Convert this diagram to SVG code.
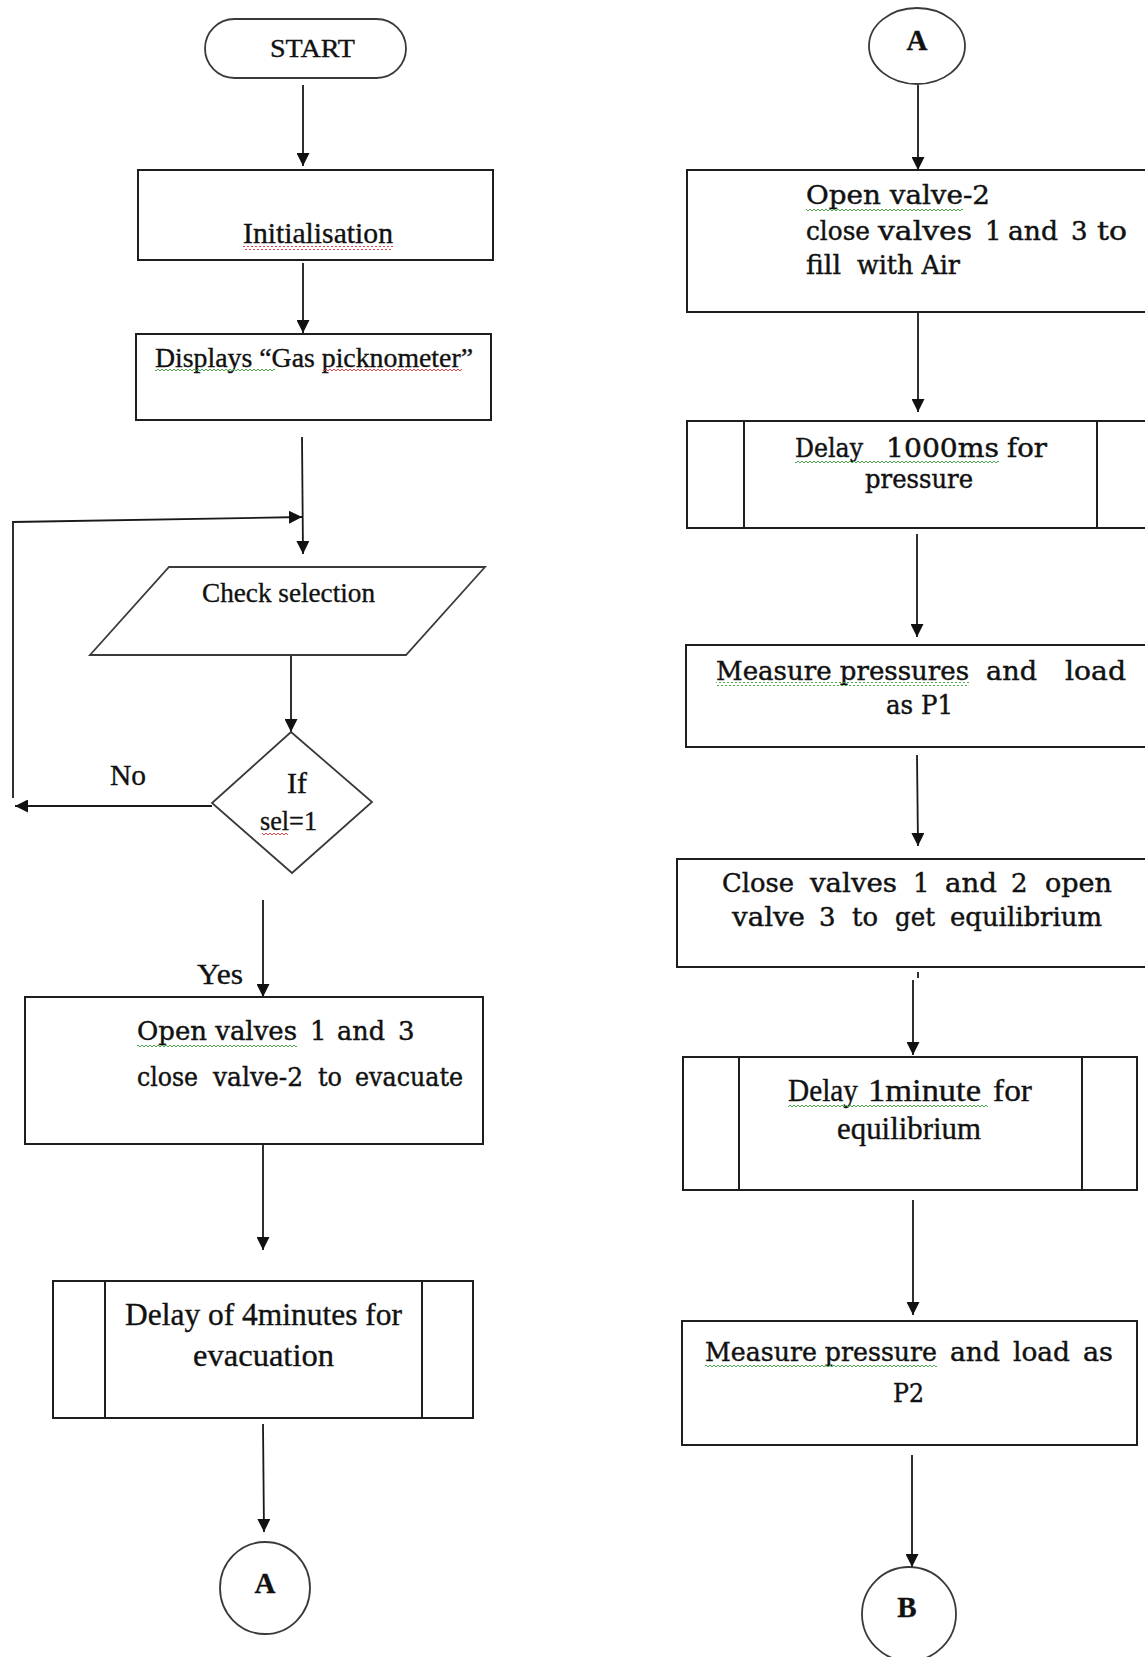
<svg xmlns="http://www.w3.org/2000/svg" width="1145" height="1657" viewBox="0 0 1145 1657">
<style>
.bg{fill:#fff}
.box{fill:none;stroke:#1e1e1e;stroke-width:2}
.shape{fill:none;stroke:#3a3a3a;stroke-width:1.8}
.con{fill:none;stroke:#1a1a1a;stroke-width:1.8}
.tr{font-family:"Liberation Serif","Times New Roman",serif;fill:#111;stroke:#111;stroke-width:0.35}
.bk{font-family:"DejaVu Serif","Liberation Serif",serif;fill:#111;stroke:#111;stroke-width:0.45}
.bold{font-weight:bold}
.sqr{fill:url(#zzR)}
.sqg{fill:url(#zzG)}
</style>
<defs>
<marker id="ah" markerUnits="userSpaceOnUse" markerWidth="13" markerHeight="13" refX="13" refY="6.5" orient="auto">
<path d="M0,0 L13,6.5 L0,13 z" fill="#111"/>
</marker>
<pattern id="zzR" width="4" height="4" patternUnits="userSpaceOnUse">
<path d="M0,3 L2,1 L4,3" fill="none" stroke="#e03030" stroke-width="0.9"/>
</pattern>
<pattern id="zzG" width="4" height="4" patternUnits="userSpaceOnUse">
<path d="M0,3 L2,1 L4,3" fill="none" stroke="#3aa03a" stroke-width="0.9"/>
</pattern>
</defs>
<rect class="bg" x="0" y="0" width="1145" height="1657"/>

<g id="connectors">
<line class="con" x1="303" y1="85" x2="303" y2="166" marker-end="url(#ah)"/>
<line class="con" x1="303" y1="263" x2="303" y2="333" marker-end="url(#ah)"/>
<line class="con" x1="302" y1="437" x2="303" y2="554" marker-end="url(#ah)"/>
<polyline class="con" points="13,798 13,522 302,517" marker-end="url(#ah)"/>
<line class="con" x1="291" y1="655" x2="291" y2="732" marker-end="url(#ah)"/>
<line class="con" x1="212" y1="806" x2="15" y2="806" marker-end="url(#ah)"/>
<line class="con" x1="263" y1="900" x2="263" y2="997" marker-end="url(#ah)"/>
<line class="con" x1="263" y1="1144" x2="263" y2="1250" marker-end="url(#ah)"/>
<line class="con" x1="263" y1="1424" x2="264" y2="1532" marker-end="url(#ah)"/>
<line class="con" x1="918" y1="85" x2="918" y2="170" marker-end="url(#ah)"/>
<line class="con" x1="918" y1="312" x2="918" y2="412" marker-end="url(#ah)"/>
<line class="con" x1="917" y1="534" x2="917" y2="637" marker-end="url(#ah)"/>
<line class="con" x1="917" y1="755" x2="918" y2="846" marker-end="url(#ah)"/>
<line class="con" x1="918" y1="972" x2="918" y2="978"/>
<line class="con" x1="913" y1="980" x2="913" y2="1055" marker-end="url(#ah)"/>
<line class="con" x1="913" y1="1200" x2="913" y2="1315" marker-end="url(#ah)"/>
<line class="con" x1="912" y1="1455" x2="912" y2="1567" marker-end="url(#ah)"/>
</g>

<g id="start">
<rect class="shape" x="205" y="19" width="201" height="59" rx="29.5"/>
<text class="tr" x="270" y="57" font-size="26" textLength="85" lengthAdjust="spacingAndGlyphs">START</text>
</g>

<g id="init">
<rect class="box" x="138" y="170" width="355" height="90"/>
<text class="tr" x="243" y="243" font-size="29" textLength="150" lengthAdjust="spacingAndGlyphs">Initialisation</text>
<rect class="sqr" x="243" y="246" width="150" height="4"/>
</g>

<g id="display">
<rect class="box" x="136" y="334" width="355" height="86"/>
<text class="tr" x="155" y="367" font-size="27" textLength="318" lengthAdjust="spacingAndGlyphs">Displays “Gas picknometer”</text>
<rect class="sqg" x="155" y="369" width="120" height="4"/>
<rect class="sqr" x="323" y="369" width="139" height="4"/>
</g>

<g id="check">
<polygon class="shape" points="169,567 485,567 406,655 90,655"/>
<text class="tr" x="202" y="602" font-size="27" textLength="173" lengthAdjust="spacingAndGlyphs">Check selection</text>
</g>

<g id="decision">
<polygon class="shape" points="291,732 372,802 292,873 212,803"/>
<text class="tr" x="287" y="793" font-size="29" textLength="20" lengthAdjust="spacingAndGlyphs">If</text>
<text class="tr" x="260" y="830" font-size="27" textLength="57" lengthAdjust="spacingAndGlyphs">sel=1</text>
<rect class="sqr" x="262" y="832" width="26" height="4"/>
</g>

<g id="labels">
<text class="tr" x="110" y="785" font-size="29" textLength="36" lengthAdjust="spacingAndGlyphs">No</text>
<text class="tr" x="197" y="984" font-size="30" textLength="46" lengthAdjust="spacingAndGlyphs">Yes</text>
</g>

<g id="evacuate">
<rect class="box" x="25" y="997" width="458" height="147"/>
<text class="bk" y="1040" font-size="26"><tspan x="137" textLength="160" lengthAdjust="spacingAndGlyphs">Open valves</tspan><tspan x="310">1</tspan><tspan x="337" textLength="48" lengthAdjust="spacingAndGlyphs">and</tspan><tspan x="398">3</tspan></text>
<text class="bk" y="1086" font-size="26"><tspan x="137" textLength="61" lengthAdjust="spacingAndGlyphs">close</tspan><tspan x="213" textLength="90" lengthAdjust="spacingAndGlyphs">valve-2</tspan><tspan x="318" textLength="24" lengthAdjust="spacingAndGlyphs">to</tspan><tspan x="355" textLength="108" lengthAdjust="spacingAndGlyphs">evacuate</tspan></text>
<rect class="sqg" x="137" y="1043" width="160" height="4"/>
</g>

<g id="delay4">
<rect class="box" x="53" y="1281" width="420" height="137"/>
<line class="box" x1="105" y1="1281" x2="105" y2="1418"/>
<line class="box" x1="422" y1="1281" x2="422" y2="1418"/>
<text class="tr" x="125" y="1325" font-size="31" textLength="277" lengthAdjust="spacingAndGlyphs">Delay of 4minutes for</text>
<text class="tr" x="193" y="1366" font-size="31" textLength="141" lengthAdjust="spacingAndGlyphs">evacuation</text>
</g>

<g id="connA1">
<ellipse class="shape" cx="265" cy="1588" rx="45" ry="46"/>
<text class="tr bold" x="265" y="1593" font-size="29" text-anchor="middle">A</text>
</g>

<g id="connA2">
<ellipse class="shape" cx="917" cy="46" rx="48" ry="38"/>
<text class="tr bold" x="917" y="50" font-size="29" text-anchor="middle">A</text>
</g>

<g id="fillair">
<rect class="box" x="687" y="170" width="470" height="142"/>
<text class="bk" x="806" y="204" font-size="26" textLength="184" lengthAdjust="spacingAndGlyphs">Open valve-2</text>
<text class="bk" y="240" font-size="26"><tspan x="806" textLength="64" lengthAdjust="spacingAndGlyphs">close</tspan><tspan x="878" textLength="94" lengthAdjust="spacingAndGlyphs">valves</tspan><tspan x="985">1</tspan><tspan x="1008" textLength="50" lengthAdjust="spacingAndGlyphs">and</tspan><tspan x="1071">3</tspan><tspan x="1097" textLength="30" lengthAdjust="spacingAndGlyphs">to</tspan></text>
<text class="bk" y="274" font-size="26"><tspan x="806" textLength="35" lengthAdjust="spacingAndGlyphs">fill</tspan><tspan x="857" textLength="103" lengthAdjust="spacingAndGlyphs">with Air</tspan></text>
<rect class="sqg" x="806" y="207" width="157" height="4"/>
</g>

<g id="delay1000">
<rect class="box" x="687" y="421" width="470" height="107"/>
<line class="box" x1="744" y1="421" x2="744" y2="528"/>
<line class="box" x1="1097" y1="421" x2="1097" y2="528"/>
<text class="bk" y="457" font-size="26"><tspan x="795" textLength="68" lengthAdjust="spacingAndGlyphs">Delay</tspan><tspan x="886" textLength="113" lengthAdjust="spacingAndGlyphs">1000ms</tspan><tspan x="1007" textLength="40" lengthAdjust="spacingAndGlyphs">for</tspan></text>
<text class="bk" x="865" y="488" font-size="26" textLength="108" lengthAdjust="spacingAndGlyphs">pressure</text>
<rect class="sqg" x="795" y="461" width="204" height="4"/>
</g>

<g id="measureP1">
<rect class="box" x="686" y="645" width="470" height="102"/>
<text class="bk" y="680" font-size="26"><tspan x="716" textLength="253" lengthAdjust="spacingAndGlyphs">Measure pressures</tspan><tspan x="986" textLength="51" lengthAdjust="spacingAndGlyphs">and</tspan><tspan x="1065" textLength="61" lengthAdjust="spacingAndGlyphs">load</tspan></text>
<text class="bk" x="886" y="714" font-size="26" textLength="67" lengthAdjust="spacingAndGlyphs">as P1</text>
<rect class="sqg" x="716" y="682" width="253" height="4"/>
</g>

<g id="equil">
<rect class="box" x="677" y="859" width="480" height="108"/>
<text class="bk" y="892" font-size="26"><tspan x="722" textLength="72" lengthAdjust="spacingAndGlyphs">Close</tspan><tspan x="810" textLength="87" lengthAdjust="spacingAndGlyphs">valves</tspan><tspan x="913">1</tspan><tspan x="945" textLength="52" lengthAdjust="spacingAndGlyphs">and</tspan><tspan x="1011">2</tspan><tspan x="1045" textLength="67" lengthAdjust="spacingAndGlyphs">open</tspan></text>
<text class="bk" y="926" font-size="26"><tspan x="732" textLength="73" lengthAdjust="spacingAndGlyphs">valve</tspan><tspan x="819">3</tspan><tspan x="852" textLength="26" lengthAdjust="spacingAndGlyphs">to</tspan><tspan x="895" textLength="40" lengthAdjust="spacingAndGlyphs">get</tspan><tspan x="950" textLength="152" lengthAdjust="spacingAndGlyphs">equilibrium</tspan></text>
</g>

<g id="delay1min">
<rect class="box" x="683" y="1057" width="454" height="133"/>
<line class="box" x1="739" y1="1057" x2="739" y2="1190"/>
<line class="box" x1="1082" y1="1057" x2="1082" y2="1190"/>
<text class="tr" y="1101" font-size="31"><tspan x="788" textLength="70" lengthAdjust="spacingAndGlyphs">Delay</tspan><tspan x="868" textLength="113" lengthAdjust="spacingAndGlyphs">1minute</tspan><tspan x="993" textLength="39" lengthAdjust="spacingAndGlyphs">for</tspan></text>
<text class="tr" x="837" y="1139" font-size="31" textLength="144" lengthAdjust="spacingAndGlyphs">equilibrium</text>
<rect class="sqg" x="788" y="1103" width="200" height="4"/>
</g>

<g id="measureP2">
<rect class="box" x="682" y="1321" width="455" height="124"/>
<text class="bk" y="1361" font-size="26"><tspan x="705" textLength="232" lengthAdjust="spacingAndGlyphs">Measure pressure</tspan><tspan x="950" textLength="50" lengthAdjust="spacingAndGlyphs">and</tspan><tspan x="1013" textLength="57" lengthAdjust="spacingAndGlyphs">load</tspan><tspan x="1083" textLength="30" lengthAdjust="spacingAndGlyphs">as</tspan></text>
<text class="bk" x="893" y="1402" font-size="26" textLength="31" lengthAdjust="spacingAndGlyphs">P2</text>
<rect class="sqg" x="705" y="1363" width="232" height="4"/>
</g>

<g id="connB">
<circle class="shape" cx="909" cy="1614" r="47"/>
<text class="tr bold" x="907" y="1617" font-size="29" text-anchor="middle">B</text>
</g>
</svg>
